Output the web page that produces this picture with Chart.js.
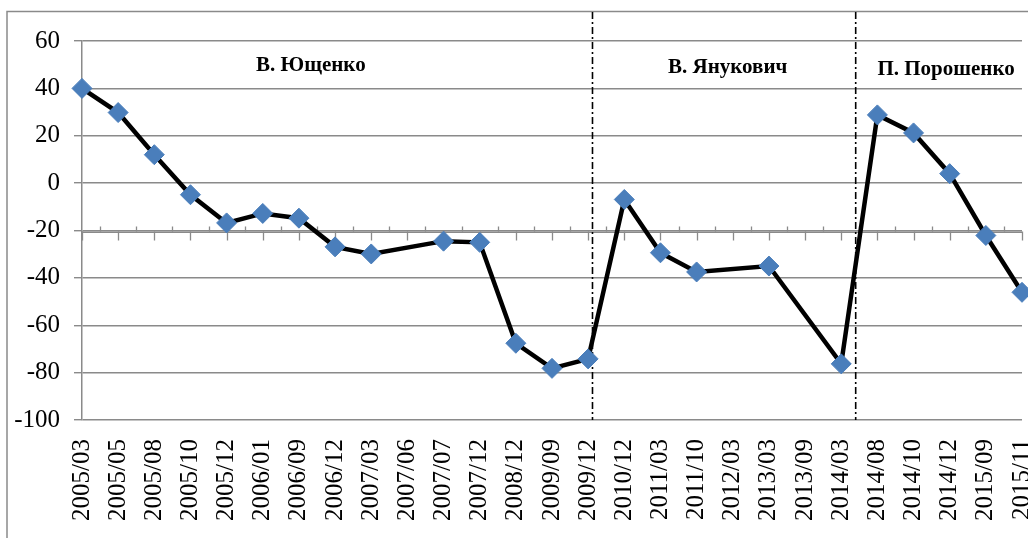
<!DOCTYPE html>
<html>
<head>
<meta charset="utf-8">
<script src="https://cdn.jsdelivr.net/npm/chart.js@4/dist/chart.umd.min.js"></script>
<style>
html,body{margin:0;padding:0;background:#fff;}
#wrap{width:1028px;height:538px;position:relative;}
</style>
</head>
<body>
<div id="wrap"><canvas id="c" width="1028" height="538"></canvas></div>
<script>
const categories = ["2005/03","2005/05","2005/08","2005/10","2005/12","2006/01","2006/09","2006/12","2007/03","2007/06","2007/07","2007/12","2008/12","2009/09","2009/12","2010/12","2011/03","2011/10","2012/03","2013/03","2013/09","2014/03","2014/08","2014/10","2014/12","2015/09","2015/11"];
const values = [40, 29.8, 12, -4.9, -16.8, -12.8, -14.8, -26.9, -29.9, null, -24.5, -25, -67.6, -78.2, -74.2, -6.9, -29.4, -37.5, null, -35, null, -76.3, 28.8, 21.2, 4, -22.1, -46.1];
const yTicks = [60, 40, 20, 0, -20, -40, -60, -80, -100];
const presidents = ["В. Ющенко", "В. Янукович", "П. Порошенко"];

// layout of decorations (not data)
const labelPos = [{i: 6.33, v: 47.4}, {i: 17.86, v: 46.7}, {i: 23.9, v: 45.8}];
const separators = [14.12, 21.4];
const axisCross = -20;

const deco = {
  id: 'deco',
  beforeDatasetsDraw(chart) {
    const ctx = chart.ctx, xs = chart.scales.x, ys = chart.scales.y, a = chart.chartArea;
    ctx.save();
    // outer border
    ctx.strokeStyle = '#8a8a8a';
    ctx.lineWidth = 1.5;
    ctx.beginPath();
    ctx.moveTo(7, 540); ctx.lineTo(7, 11.5); ctx.lineTo(1030, 11.5);
    ctx.stroke();
    // horizontal category axis crossing at -20
    const y0 = ys.getPixelForValue(axisCross);
    ctx.strokeStyle = '#8a8a8a';
    ctx.lineWidth = 1.5;
    ctx.beginPath();
    ctx.moveTo(a.left, y0 + 1.8); ctx.lineTo(a.right, y0 + 1.8);
    ctx.stroke();
    ctx.lineWidth = 1.3;
    ctx.beginPath();
    for (let i = 0; i < categories.length; i++) {
      const x = Math.round(xs.getPixelForValue(i)) + 0.5;
      ctx.moveTo(x, y0 + 1); ctx.lineTo(x, y0 + 10);
      if (i < categories.length - 1) {
        const xm = Math.round(xs.getPixelForValue(i + 0.5)) + 0.5;
        ctx.moveTo(xm, y0 - 4); ctx.lineTo(xm, y0 + 1);
      }
    }
    ctx.stroke();
    // separators
    ctx.strokeStyle = '#000';
    ctx.lineWidth = 1.6;
    ctx.setLineDash([7, 3, 2, 3]);
    separators.forEach(s => {
      const x = xs.getPixelForValue(s);
      ctx.beginPath();
      ctx.moveTo(x, 12); ctx.lineTo(x, a.bottom);
      ctx.stroke();
    });
    ctx.restore();
  },
  afterDraw(chart) {
    const ctx = chart.ctx, xs = chart.scales.x, ys = chart.scales.y;
    ctx.save();
    ctx.fillStyle = '#000';
    ctx.font = 'bold 21px "Liberation Serif", "Times New Roman", serif';
    ctx.textAlign = 'center';
    ctx.textBaseline = 'alphabetic';
    presidents.forEach((t, k) => {
      ctx.fillText(t, xs.getPixelForValue(labelPos[k].i), ys.getPixelForValue(labelPos[k].v));
    });
    ctx.restore();
  }
};

new Chart(document.getElementById('c'), {
  type: 'line',
  data: {
    labels: categories,
    datasets: [{
      data: values,
      borderColor: '#000',
      borderWidth: 4.5,
      pointStyle: 'rectRot',
      pointRadius: 10,
      pointBackgroundColor: '#4a7ebb',
      pointBorderColor: '#4a7ebb',
      pointBorderWidth: 1,
      tension: 0,
      spanGaps: true,
      clip: false
    }]
  },
  options: {
    responsive: false,
    animation: false,
    devicePixelRatio: 1,
    layout: {autoPadding: false, padding: {left: 0, right: 6, top: 41, bottom: 0}},
    plugins: {legend: {display: false}, tooltip: {enabled: false}},
    scales: {
      x: {
        type: 'category',
        offset: false,
        grid: {display: false, drawTicks: false},
        border: {display: false},
        ticks: {
          autoSkip: false, maxRotation: 90, minRotation: 90,
          color: '#000', padding: 19,
          font: {family: '"Liberation Serif", "Times New Roman", serif', size: 25}
        },
        afterFit(s) { s.height = 118; s.paddingLeft = 0; s.paddingRight = 0; }
      },
      y: {
        min: -100, max: 60,
        afterBuildTicks(s) { s.ticks = yTicks.map(v => ({value: v})); },
        grid: {color: '#8a8a8a', lineWidth: 1.4, tickLength: 8, drawTicks: true},
        border: {color: '#8a8a8a', width: 1.5},
        ticks: {
          color: '#000', padding: 14,
          font: {family: '"Liberation Serif", "Times New Roman", serif', size: 25}
        },
        afterFit(s) { s.width = 82; s.paddingTop = 0; s.paddingBottom = 0; }
      }
    }
  },
  plugins: [deco]
});
</script>
</body>
</html>
